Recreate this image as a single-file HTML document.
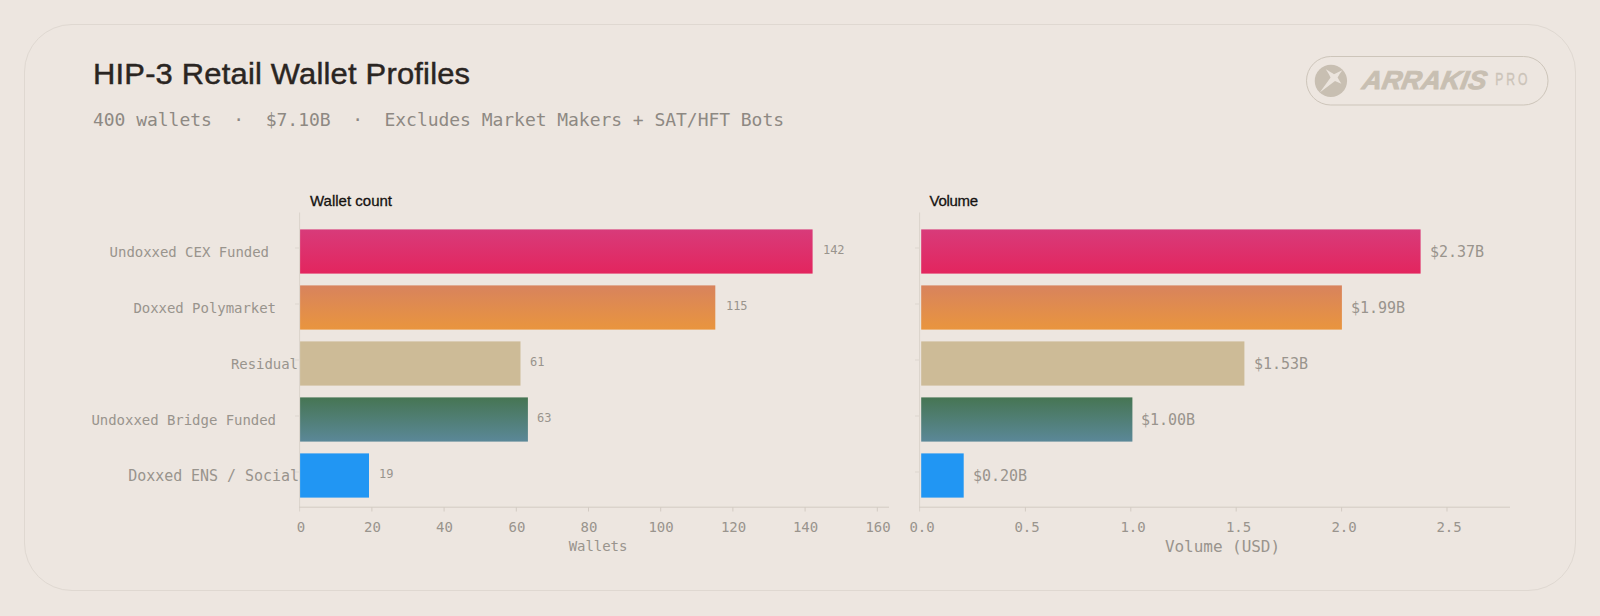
<!DOCTYPE html>
<html lang="en">
<head>
<meta charset="utf-8">
<title>HIP-3 Retail Wallet Profiles</title>
<style>
  html,body{margin:0;padding:0;}
  body{width:1600px;height:616px;overflow:hidden;background:#ede6e0;position:relative;
       font-family:"Liberation Sans",sans-serif;}
  .abs{position:absolute;white-space:pre;line-height:1;}
  .frame{position:absolute;left:24px;top:24px;width:1550px;height:565px;border:1px solid #dfd8d1;border-radius:48px;background:#ede6e0;}
  .title{left:93px;top:59px;font-size:30px;color:#2a2522;letter-spacing:0.2px;-webkit-text-stroke:0.45px #2a2522;transform-origin:0 0;transform:scaleX(1.03);}
  .mono{font-family:"DejaVu Sans Mono","Liberation Mono",monospace;letter-spacing:-0.04px;}
  .sub{left:93px;top:111px;font-size:18px;color:#8e8983;}
  .ctitle{font-size:15px;color:#151210;-webkit-text-stroke:0.3px #151210;}
  .cat{font-size:14px;color:#99948d;text-align:right;}
  .val{font-size:12px;color:#99948d;}
  .vval{font-size:15px;color:#99948d;}
  .tick{font-size:14px;color:#99948d;transform:translateX(-50%);}
  .axl{font-size:14px;color:#99948d;transform:translateX(-50%);}
</style>
</head>
<body>
<div class="frame"></div>
<div class="abs title">HIP-3 Retail Wallet Profiles</div>
<div class="abs sub mono">400 wallets  ·  $7.10B  ·  Excludes Market Makers + SAT/HFT Bots</div>

<!-- logo -->
<svg class="abs" style="left:1300px;top:50px" width="260" height="62" viewBox="1300 50 260 62">
  <rect x="1306.5" y="56.5" width="241.5" height="48.5" rx="24.25" fill="none" stroke="#cdc5ba" stroke-width="1"/>
  <circle cx="1330.9" cy="80.9" r="16.15" fill="#c8bfb2"/>
  <path d="M1325.8 69.2 Q1331.5 72.5 1334 74.2 Q1337.5 72.5 1342.4 70.3 Q1339 74.5 1337.6 77.4 Q1339 80 1341.4 83.8 Q1337.5 82 1335 81 L1319.8 92.4 L1330.6 77.6 Q1329 74 1325.8 69.2 Z" fill="#ebe4dd"/>
  <g transform="translate(1361.3 89.2) skewX(-10)">
    <text x="0" y="0" font-family="Liberation Sans, sans-serif" font-weight="bold" font-style="italic" font-size="26" fill="#c8bfb2" stroke="#c8bfb2" stroke-width="0.9" textLength="124" lengthAdjust="spacingAndGlyphs">ARRAKIS</text>
  </g>
  <g transform="translate(1495.2 85) scale(0.7 1)">
    <text x="0" y="0" font-family="Liberation Sans, sans-serif" font-size="17.4" fill="#cbc3b8" stroke="#cbc3b8" stroke-width="0.35" letter-spacing="4.2">PRO</text>
  </g>
</svg>

<!-- bars and axes -->
<svg class="abs" style="left:0;top:0" width="1600" height="616" viewBox="0 0 1600 616">
<defs>
<linearGradient id="g1" x1="0" y1="0" x2="0" y2="1"><stop offset="0" stop-color="#d83b7a"/><stop offset="1" stop-color="#e3255e"/></linearGradient>
<linearGradient id="g2" x1="0" y1="0" x2="0" y2="1"><stop offset="0" stop-color="#d8835d"/><stop offset="1" stop-color="#e9953e"/></linearGradient>
<linearGradient id="g4" x1="0" y1="0" x2="0" y2="1"><stop offset="0" stop-color="#467553"/><stop offset="1" stop-color="#5b8898"/></linearGradient>
</defs>
<g stroke="#dad3cc" stroke-width="1" fill="none">
<path d="M299.6 212.5V511.5M919.6 212.5V511.5"/>
</g>
<g stroke="#d3cbc3" stroke-width="1" fill="none">
<path d="M299.1 507.2H889M919.1 507.2H1510"/>
<path d="M371.9 507.2V511.5M444.1 507.2V511.5M516.3 507.2V511.5M588.5 507.2V511.5M660.7 507.2V511.5M732.9 507.2V511.5M805.1 507.2V511.5M877.3 507.2V511.5M1025.4 507.2V511.5M1130.8 507.2V511.5M1236.2 507.2V511.5M1341.6 507.2V511.5M1447.0 507.2V511.5"/>
</g>
<path d="M295 248.0H299.5M915 248.0H919.5M295 304.0H299.5M915 304.0H919.5M295 360.0H299.5M915 360.0H919.5M295 416.0H299.5M915 416.0H919.5M295 472.0H299.5M915 472.0H919.5" stroke="#ddd6cf" stroke-width="1" fill="none"/>
<rect x="300.1" y="229.4" width="512.5" height="44.2" fill="url(#g1)"/>
<rect x="921.2" y="229.4" width="499.4" height="44.2" fill="url(#g1)"/>
<rect x="300.1" y="285.4" width="415.2" height="44.2" fill="url(#g2)"/>
<rect x="921.2" y="285.4" width="420.7" height="44.2" fill="url(#g2)"/>
<rect x="300.1" y="341.4" width="220.4" height="44.2" fill="#cdbb97"/>
<rect x="921.2" y="341.4" width="323.2" height="44.2" fill="#cdbb97"/>
<rect x="300.1" y="397.4" width="227.8" height="44.2" fill="url(#g4)"/>
<rect x="921.2" y="397.4" width="211.2" height="44.2" fill="url(#g4)"/>
<rect x="300.1" y="453.4" width="68.9" height="44.2" fill="#2196f3"/>
<rect x="921.2" y="453.4" width="42.5" height="44.2" fill="#2196f3"/>
</svg>

<!-- chart 1 -->
<div class="abs ctitle" style="left:310px;top:193px">Wallet count</div>

<div class="abs cat mono" style="right:1331px;top:245px">Undoxxed CEX Funded</div>
<div class="abs cat mono" style="right:1324px;top:301px">Doxxed Polymarket</div>
<div class="abs cat mono" style="right:1302px;top:357px">Residual</div>
<div class="abs cat mono" style="right:1324px;top:413px">Undoxxed Bridge Funded</div>
<div class="abs cat mono" style="right:1301px;top:469px;font-size:15px">Doxxed ENS / Social</div>


<div class="abs val mono" style="left:823px;top:244px">142</div>
<div class="abs val mono" style="left:726px;top:300px">115</div>
<div class="abs val mono" style="left:530px;top:356px">61</div>
<div class="abs val mono" style="left:537px;top:412px">63</div>
<div class="abs val mono" style="left:379px;top:468px">19</div>

<div class="abs tick mono" style="left:301px;top:519.5px">0</div>
<div class="abs tick mono" style="left:372.5px;top:519.5px">20</div>
<div class="abs tick mono" style="left:444.5px;top:519.5px">40</div>
<div class="abs tick mono" style="left:517px;top:519.5px">60</div>
<div class="abs tick mono" style="left:589px;top:519.5px">80</div>
<div class="abs tick mono" style="left:661px;top:519.5px">100</div>
<div class="abs tick mono" style="left:733.5px;top:519.5px">120</div>
<div class="abs tick mono" style="left:805.5px;top:519.5px">140</div>
<div class="abs tick mono" style="left:878px;top:519.5px">160</div>
<div class="abs axl mono" style="left:598px;top:539px">Wallets</div>

<!-- chart 2 -->
<div class="abs ctitle" style="left:929.5px;top:193px;letter-spacing:-0.3px">Volume</div>


<div class="abs vval mono" style="left:1430px;top:245px">$2.37B</div>
<div class="abs vval mono" style="left:1351px;top:301px">$1.99B</div>
<div class="abs vval mono" style="left:1254px;top:357px">$1.53B</div>
<div class="abs vval mono" style="left:1141px;top:413px">$1.00B</div>
<div class="abs vval mono" style="left:973px;top:469px">$0.20B</div>

<div class="abs tick mono" style="left:922px;top:519.5px">0.0</div>
<div class="abs tick mono" style="left:1027px;top:519.5px">0.5</div>
<div class="abs tick mono" style="left:1133px;top:519.5px">1.0</div>
<div class="abs tick mono" style="left:1238.5px;top:519.5px">1.5</div>
<div class="abs tick mono" style="left:1344px;top:519.5px">2.0</div>
<div class="abs tick mono" style="left:1449px;top:519.5px">2.5</div>
<div class="abs axl mono" style="left:1222.5px;top:539px;font-size:16px">Volume (USD)</div>
</body>
</html>
